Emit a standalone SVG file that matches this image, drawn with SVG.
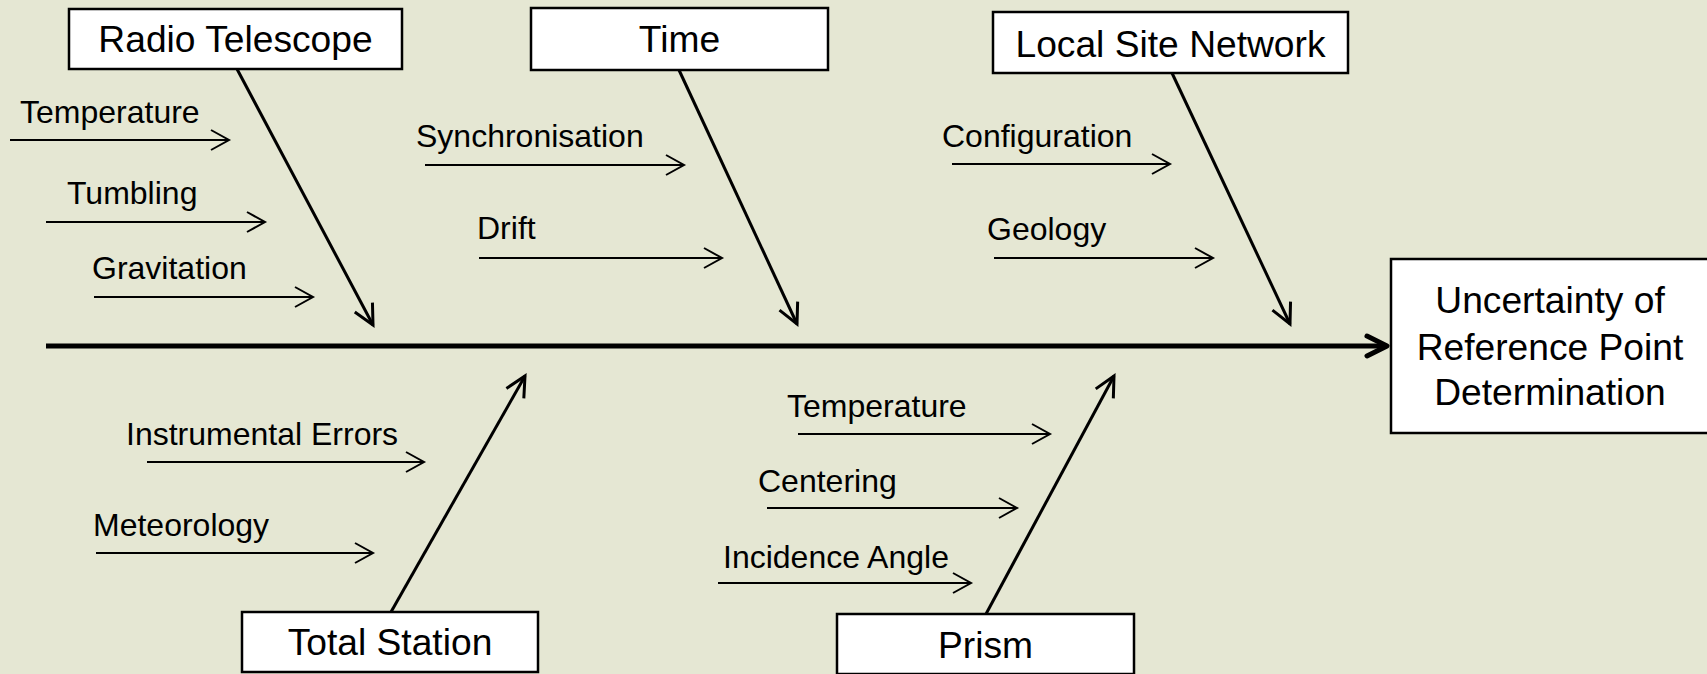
<svg xmlns="http://www.w3.org/2000/svg" width="1707" height="674" viewBox="0 0 1707 674">
<style>
.box{fill:#fff;stroke:#000;stroke-width:2.5}
.title{font-family:"Liberation Sans",Arial,sans-serif;font-size:37.2px;fill:#000;text-anchor:middle}
.lbl{font-family:"Liberation Sans",Arial,sans-serif;font-size:32px;fill:#000}
.small{stroke:#000;stroke-width:2;fill:none;marker-end:url(#mS)}
.bone{stroke:#000;stroke-width:3;fill:none;marker-end:url(#mB)}
.spine{stroke:#000;stroke-width:5;fill:none;marker-end:url(#mM)}
</style>
<defs>
<marker id="mS" markerUnits="userSpaceOnUse" orient="auto" refX="0" refY="0" markerWidth="30" markerHeight="30" overflow="visible">
<path d="M-18,-10 L0,0 L-18,10" fill="none" stroke="#000" stroke-width="2"/>
</marker>
<marker id="mB" markerUnits="userSpaceOnUse" orient="auto" refX="0" refY="0" markerWidth="30" markerHeight="30" overflow="visible">
<path d="M-20,-10 L0,0 L-20,10" fill="none" stroke="#000" stroke-width="3"/>
</marker>
<marker id="mM" markerUnits="userSpaceOnUse" orient="auto" refX="0" refY="0" markerWidth="40" markerHeight="40" overflow="visible">
<path d="M-20,-10 L0,0 L-20,10" fill="none" stroke="#000" stroke-width="5" stroke-linecap="round" stroke-linejoin="round"/>
</marker>
</defs>
<rect x="0" y="0" width="1707" height="674" fill="#E5E7D3"/>

<g id="connectors">
<line class="spine" x1="46" y1="346" x2="1387" y2="346"/>
<line class="bone" x1="237" y1="69" x2="373" y2="325"/>
<line class="bone" x1="679" y1="70" x2="797" y2="324"/>
<line class="bone" x1="1172" y1="73" x2="1290" y2="324"/>
<line class="bone" x1="391" y1="612" x2="525" y2="376"/>
<line class="bone" x1="986" y1="614" x2="1114" y2="376"/>
<line class="small" x1="10" y1="140" x2="229" y2="140"/>
<line class="small" x1="46" y1="222" x2="265" y2="222"/>
<line class="small" x1="94" y1="297" x2="313" y2="297"/>
<line class="small" x1="425" y1="165" x2="684" y2="165"/>
<line class="small" x1="479" y1="258" x2="722" y2="258"/>
<line class="small" x1="952" y1="164" x2="1170" y2="164"/>
<line class="small" x1="994" y1="258" x2="1213" y2="258"/>
<line class="small" x1="147" y1="462" x2="424" y2="462"/>
<line class="small" x1="96" y1="553" x2="373" y2="553"/>
<line class="small" x1="798" y1="434" x2="1050" y2="434"/>
<line class="small" x1="767" y1="508" x2="1017" y2="508"/>
<line class="small" x1="718" y1="583" x2="971" y2="583"/>
</g>

<g id="labels">
<text class="lbl" x="20" y="123">Temperature</text>
<text class="lbl" x="67" y="204">Tumbling</text>
<text class="lbl" x="92" y="279">Gravitation</text>
<text class="lbl" x="416" y="147">Synchronisation</text>
<text class="lbl" x="477" y="239">Drift</text>
<text class="lbl" x="942" y="147">Configuration</text>
<text class="lbl" x="987" y="240">Geology</text>
<text class="lbl" x="126" y="445">Instrumental Errors</text>
<text class="lbl" x="93" y="536">Meteorology</text>
<text class="lbl" x="787" y="417">Temperature</text>
<text class="lbl" x="758" y="492">Centering</text>
<text class="lbl" x="723" y="568">Incidence Angle</text>
</g>

<g id="radio-telescope">
<rect class="box" x="69" y="9" width="333" height="60"/>
<text class="title" x="235.5" y="52">Radio Telescope</text>
</g>
<g id="time">
<rect class="box" x="531" y="8" width="297" height="62"/>
<text class="title" x="679.5" y="52">Time</text>
</g>
<g id="local-site-network">
<rect class="box" x="993" y="12" width="355" height="61"/>
<text class="title" x="1170.5" y="57">Local Site Network</text>
</g>
<g id="total-station">
<rect class="box" x="242" y="612" width="296" height="60"/>
<text class="title" x="390" y="655">Total Station</text>
</g>
<g id="prism">
<rect class="box" x="837" y="614" width="297" height="60"/>
<text class="title" x="985.5" y="658">Prism</text>
</g>
<g id="result">
<rect class="box" x="1391" y="259" width="330" height="174"/>
<text class="title" x="1550" y="313">Uncertainty of</text>
<text class="title" x="1550" y="360">Reference Point</text>
<text class="title" x="1550" y="405">Determination</text>
</g>
</svg>
